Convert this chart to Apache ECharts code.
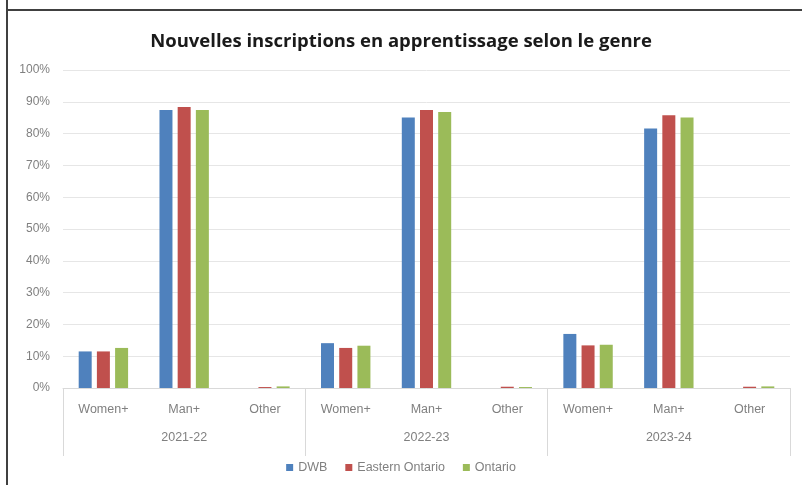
<!DOCTYPE html>
<html>
<head>
<meta charset="utf-8">
<script src="https://cdn.jsdelivr.net/npm/echarts@6/dist/echarts.min.js"></script>
<style>
  html, body { margin: 0; padding: 0; background: #fff; }
  #chart { width: 802px; height: 485px; }
</style>
</head>
<body>
<div id="chart"></div>
<script>
// Apprenticeship registrations by gender, share of total (%)
const years = ['2021-22', '2022-23', '2023-24'];
const genders = ['Women+', 'Man+', 'Other'];
const yTicks = [0, 10, 20, 30, 40, 50, 60, 70, 80, 90, 100];

// One value per (year, gender) pair, in year-major order
const dwb            = [11.5, 87.4, 0.0, 14.1, 85.1, 0.0, 17.0, 81.6, 0.0];
const easternOntario = [11.5, 88.4, 0.3, 12.6, 87.4, 0.4, 13.4, 85.8, 0.4];
const ontario        = [12.6, 87.4, 0.5, 13.3, 86.8, 0.3, 13.6, 85.1, 0.5];

const seriesNames = ['DWB', 'Eastern Ontario', 'Ontario'];
const seriesColors = ['#4F81BD', '#C0504D', '#9BBB59'];

const categories = [];
years.forEach(() => genders.forEach(g => categories.push(g)));

const labelFont = 'Liberation Sans';
const labelColor = '#808080';
const chart = echarts.init(document.getElementById('chart'), null, { renderer: 'canvas' });

chart.setOption({
  animation: false,
  title: {
    text: 'Nouvelles inscriptions en apprentissage selon le genre',
    left: 'center',
    top: 27,
    textStyle: { fontFamily: 'Open Sans', fontSize: 18.5, fontWeight: 'bold', color: '#1a1a1a' }
  },
  legend: {
    top: 456,
    left: 'center',
    itemWidth: 7,
    itemHeight: 7,
    itemGap: 18,
    icon: 'rect',
    textStyle: { fontFamily: labelFont, fontSize: 12.5, color: labelColor },
    data: seriesNames
  },
  grid: { left: 63, right: 12, top: 70, bottom: 97 },
  xAxis: [
    {
      type: 'category',
      data: categories,
      position: 'bottom',
      axisLine: { show: true, lineStyle: { color: '#D9D9D9' } },
      axisTick: { show: false },
      axisLabel: { interval: 0, margin: 15, fontFamily: labelFont, fontSize: 12.5, color: labelColor }
    },
    {
      type: 'category',
      data: years,
      position: 'bottom',
      axisLine: { show: false },
      axisTick: { show: true, length: 68, lineStyle: { color: '#D9D9D9' } },
      axisLabel: { interval: 0, margin: 43, fontFamily: labelFont, fontSize: 12.5, color: labelColor }
    }
  ],
  yAxis: {
    type: 'value',
    min: yTicks[0],
    max: yTicks[yTicks.length - 1],
    interval: yTicks[1] - yTicks[0],
    axisLine: { show: false },
    axisTick: { show: false },
    splitLine: { lineStyle: { color: '#E6E6E6' } },
    axisLabel: { margin: 13, formatter: '{value}%', fontFamily: labelFont, fontSize: 12, color: labelColor }
  },
  series: [dwb, easternOntario, ontario].map((vals, i) => ({
    name: seriesNames[i],
    type: 'bar',
    xAxisIndex: 0,
    data: vals,
    barWidth: 13,
    barGap: '40%',
    itemStyle: { color: seriesColors[i] }
  })),
  graphic: [
    { type: 'line', shape: { x1: 7, y1: 0, x2: 7, y2: 485 }, style: { stroke: '#404040', lineWidth: 2 } },
    { type: 'line', shape: { x1: 6, y1: 10, x2: 802, y2: 10 }, style: { stroke: '#404040', lineWidth: 2 } }
  ]
});
</script>
</body>
</html>
